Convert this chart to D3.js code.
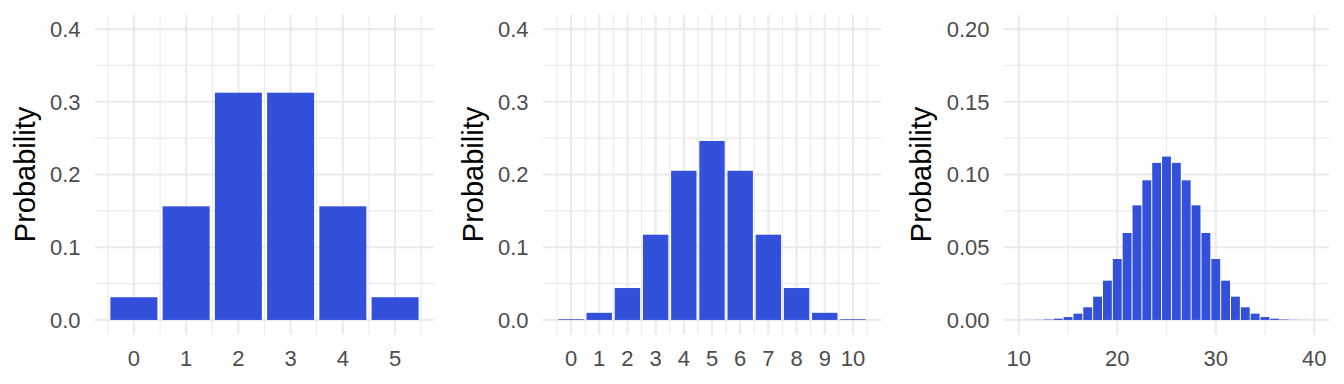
<!DOCTYPE html>
<html>
<head>
  <script src="https://cdn.jsdelivr.net/npm/d3@7"></script>
  <style>
    body { margin: 0; background: #fff; }
    svg { font-family: "Liberation Sans", Arial, sans-serif; }
    .grid-major { stroke: #ebebeb; stroke-width: 2.2; }
    .grid-minor { stroke: #ebebeb; stroke-width: 1.1; }
    .tick-label { font-size: 22px; fill: #4d4d4d; }
    .axis-title { font-size: 29px; fill: #000; }
  </style>
</head>
<body>
<div id="chart"></div>
<script>
// n = 5
var k5 = [0, 1, 2, 3, 4, 5];
var p5 = [0.03125, 0.15625, 0.3125, 0.3125, 0.15625, 0.03125];

// n = 10
var k10 = [0, 1, 2, 3, 4, 5, 6, 7, 8, 9, 10];
var p10 = [0.00098, 0.0098, 0.0439, 0.1172, 0.2051, 0.2461, 0.2051, 0.1172, 0.0439, 0.0098, 0.00098];

// n = 50
var k50 = [11, 12, 13, 14, 15, 16, 17, 18, 19, 20, 21, 22, 23, 24, 25,
           26, 27, 28, 29, 30, 31, 32, 33, 34, 35, 36, 37, 38, 39];
var p50 = [0.00003, 0.00011, 0.00032, 0.00083, 0.00199, 0.00436, 0.0087, 0.016, 0.027, 0.0419, 0.0598,
           0.0788, 0.096, 0.108, 0.1123, 0.108, 0.096, 0.0788, 0.0598, 0.0419, 0.027, 0.016, 0.0087,
           0.00436, 0.00199, 0.00083, 0.00032, 0.00011, 0.00003];

var xTicks5 = [0, 1, 2, 3, 4, 5];
var xTicks10 = [0, 1, 2, 3, 4, 5, 6, 7, 8, 9, 10];
var xTicks50 = [10, 20, 30, 40];
var yTicksA = [0, 0.1, 0.2, 0.3, 0.4];
var yTicksB = [0, 0.05, 0.1, 0.15, 0.2];

var width = 1344;
var height = 384;
var barColor = "#3350db";

var panels = [
  {k: k5, p: p5, xdom: [-0.745, 5.745], xt: xTicks5, xminor: [-0.5, 0.5, 1.5, 2.5, 3.5, 4.5, 5.5],
   ydom: [-0.02, 0.42], yt: yTicksA, yminor: [0.05, 0.15, 0.25, 0.35], yfmt: ".1f",
   left: 95, right: 434, titleX: 35},
  {k: k10, p: p10, xdom: [-0.995, 10.995], xt: xTicks10, xminor: d3.range(-0.5, 11, 1),
   ydom: [-0.02, 0.42], yt: yTicksA, yminor: [0.05, 0.15, 0.25, 0.35], yfmt: ".1f",
   left: 543, right: 881, titleX: 483},
  {k: k50, p: p50, xdom: [8.5, 41.5], xt: xTicks50, xminor: [15, 25, 35],
   ydom: [-0.01, 0.21], yt: yTicksB, yminor: [0.025, 0.075, 0.125, 0.175], yfmt: ".2f",
   left: 1004, right: 1329, titleX: 931}
];

var plotTop = 14.5, plotBottom = 334.5;

var svg = d3.select("#chart").append("svg")
  .attr("width", width)
  .attr("height", height);

panels.forEach(function(pn) {
  var x = d3.scaleLinear().domain(pn.xdom).range([pn.left, pn.right]);
  var y = d3.scaleLinear().domain(pn.ydom).range([plotBottom, plotTop]);
  var g = svg.append("g");

  /* grid */
  g.selectAll(".hmin").data(pn.yminor).enter().append("line")
    .attr("class", "grid-minor")
    .attr("x1", pn.left).attr("x2", pn.right)
    .attr("y1", d => y(d)).attr("y2", d => y(d));
  g.selectAll(".vmin").data(pn.xminor).enter().append("line")
    .attr("class", "grid-minor")
    .attr("y1", plotTop).attr("y2", plotBottom)
    .attr("x1", d => x(d)).attr("x2", d => x(d));
  g.selectAll(".hmaj").data(pn.yt).enter().append("line")
    .attr("class", "grid-major")
    .attr("x1", pn.left).attr("x2", pn.right)
    .attr("y1", d => y(d)).attr("y2", d => y(d));
  g.selectAll(".vmaj").data(pn.xt).enter().append("line")
    .attr("class", "grid-major")
    .attr("y1", plotTop).attr("y2", plotBottom)
    .attr("x1", d => x(d)).attr("x2", d => x(d));

  /* bars */
  var bw = x(0.9) - x(0);
  g.selectAll("rect").data(pn.k).enter().append("rect")
    .attr("x", d => x(d) - bw / 2)
    .attr("width", bw)
    .attr("y", (d, i) => y(pn.p[i]))
    .attr("height", (d, i) => y(0) - y(pn.p[i]))
    .attr("fill", barColor);

  /* tick labels */
  var fmt = d3.format(pn.yfmt);
  g.selectAll(".ylab").data(pn.yt).enter().append("text")
    .attr("class", "tick-label")
    .attr("text-anchor", "end")
    .attr("x", pn.left - 14.5)
    .attr("y", d => y(d))
    .attr("dy", "0.36em")
    .text(d => fmt(d));
  g.selectAll(".xlab").data(pn.xt).enter().append("text")
    .attr("class", "tick-label")
    .attr("text-anchor", "middle")
    .attr("x", d => x(d))
    .attr("y", 365.5)
    .text(d => d);

  g.append("text")
    .attr("class", "axis-title")
    .attr("text-anchor", "middle")
    .attr("transform", `translate(${pn.titleX}, ${(plotTop + plotBottom) / 2}) rotate(-90)`)
    .text("Probability");
});
</script>
</body>
</html>
